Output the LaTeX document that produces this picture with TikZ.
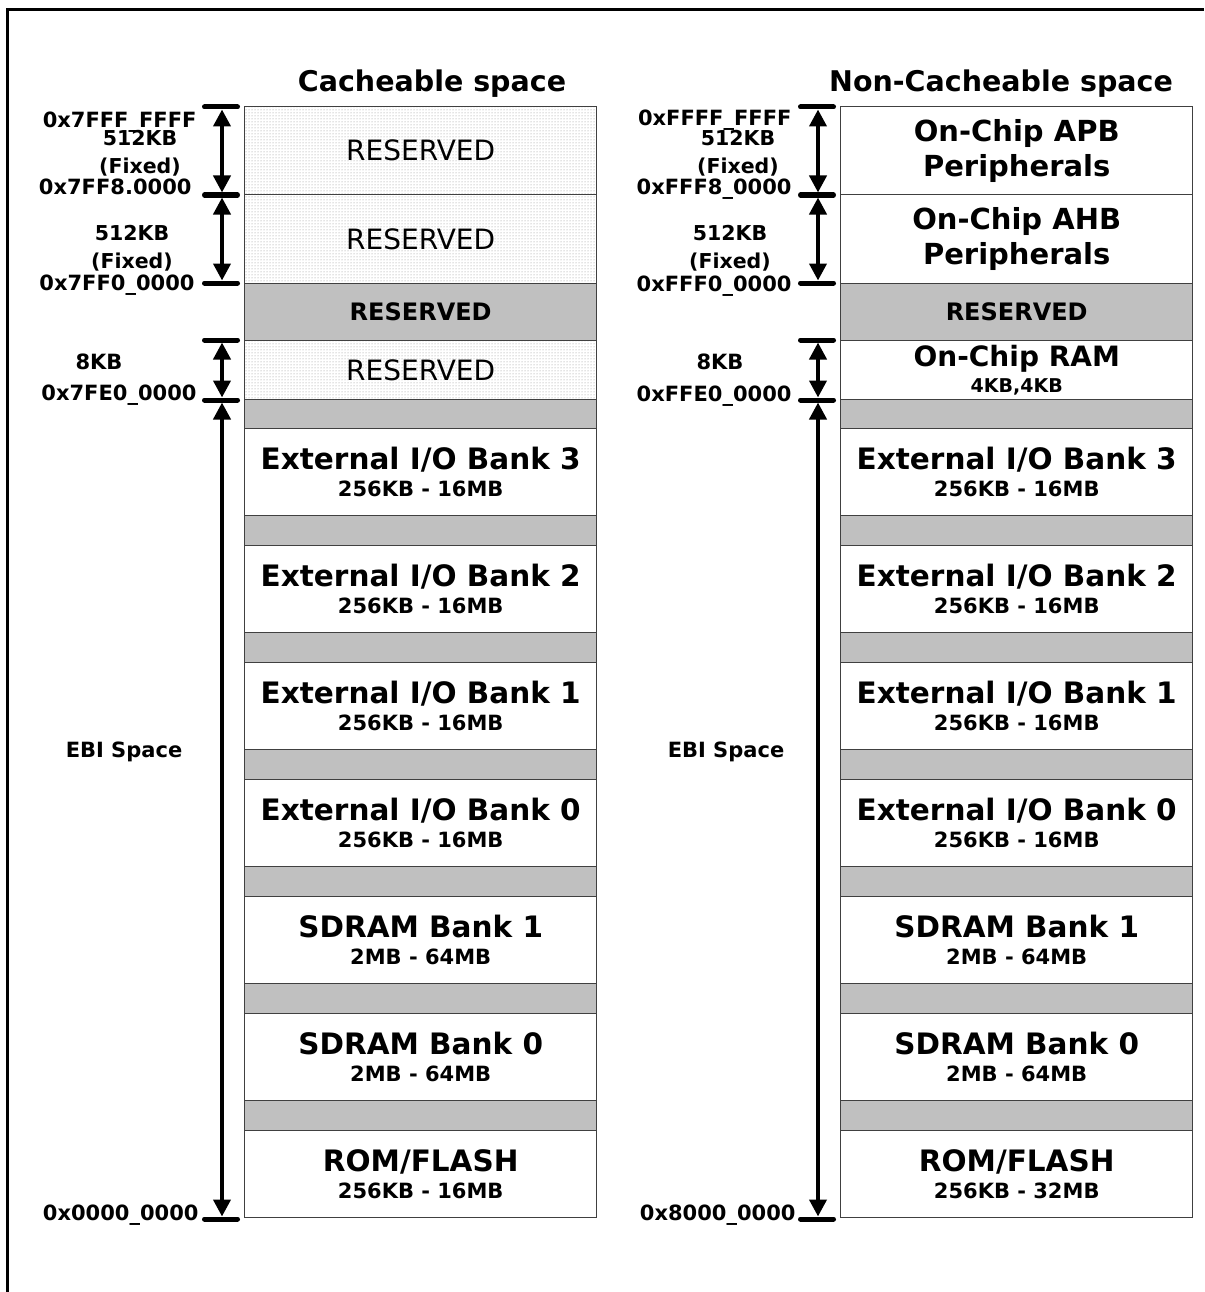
\documentclass[tikz,border=0pt]{standalone}
\usepackage{fontspec}
\setmainfont{DejaVu Sans}
\usetikzlibrary{arrows.meta,patterns}
\definecolor{resgray}{RGB}{192,192,192}
\definecolor{cellline}{RGB}{64,64,64}
\newcommand*{\lx}{244}
\newcommand*{\rx}{840}
\newcommand*{\pxfont}[1]{\fontsize{#1}{#1}\selectfont}
\tikzset{
  cell/.style={draw=cellline, line width=1.4pt, minimum width=352pt, inner sep=0pt,
    anchor=north west, align=center},
  bank/.style={cell, minimum height=87pt, font=\bfseries\fontsize{29.5}{27}\selectfont},
  gapcell/.style={cell, fill=resgray, minimum height=30pt, font=\bfseries\pxfont{24}},
  dotcell/.style={cell, pattern=dots, pattern color=black!45, font=\mdseries\pxfont{28}},
  periph/.style={cell, font=\bfseries\fontsize{29}{35}\selectfont},
  title/.style={anchor=base, font=\bfseries\pxfont{28.5}},
  addr/.style={anchor=base east, font=\bfseries\pxfont{21}},
  size/.style={align=center, font=\bfseries\fontsize{20.5}{27.5}\selectfont},
  kb/.style={anchor=base, font=\bfseries\pxfont{21}},
  span/.style={line width=4pt, shorten <=2.5pt, shorten >=2.5pt,
    {Triangle[width=17pt,length=17pt]}-{Triangle[width=17pt,length=17pt]}},
  tick/.style={line width=5pt, line cap=round},
}
\begin{document}
\begin{tikzpicture}[x=1pt, y=-1pt, font=\bfseries]
    \useasboundingbox (0,0) rectangle (1204,1292);
    \draw [line width=3pt] (7.5,1292) -- (7.5,9.5) -- (1204,9.5);
    % titles
    \node [title] (ltitle) at (432,92)  {Cacheable space};
    \node [title] (rtitle) at (1001,92) {Non-Cacheable space};
    % cacheable column
    \node [dotcell, minimum height=88pt] (lres1) at (\lx,106) {RESERVED};
    \node [dotcell, minimum height=89pt] (lres2) at (\lx,194) {RESERVED};
    \node [gapcell, minimum height=57pt] (lres3) at (\lx,283) {RESERVED};
    \node [dotcell, minimum height=59pt] (lres4) at (\lx,340) {RESERVED};
    \node [gapcell, minimum height=29pt] (lgap4) at (\lx,399) {};
    \node [bank] (lio3) at (\lx,428) {External I/O Bank 3\\{\pxfont{21}256KB - 16MB}};
    \node [gapcell] (lgap3) at (\lx,515) {};
    \node [bank] (lio2) at (\lx,545) {External I/O Bank 2\\{\pxfont{21}256KB - 16MB}};
    \node [gapcell] (lgap2) at (\lx,632) {};
    \node [bank] (lio1) at (\lx,662) {External I/O Bank 1\\{\pxfont{21}256KB - 16MB}};
    \node [gapcell] (lgap1) at (\lx,749) {};
    \node [bank] (lio0) at (\lx,779) {External I/O Bank 0\\{\pxfont{21}256KB - 16MB}};
    \node [gapcell] (lgap0) at (\lx,866) {};
    \node [bank] (lsd1) at (\lx,896) {SDRAM Bank 1\\{\pxfont{21}2MB - 64MB}};
    \node [gapcell] (lgaps) at (\lx,983) {};
    \node [bank] (lsd0) at (\lx,1013) {SDRAM Bank 0\\{\pxfont{21}2MB - 64MB}};
    \node [gapcell] (lgapr) at (\lx,1100) {};
    \node [bank] (lrom) at (\lx,1130) {ROM/FLASH\\{\pxfont{21}256KB - 16MB}};
    % non-cacheable column
    \node [periph, minimum height=88pt] (rapb) at (\rx,106) {On-Chip APB\\Peripherals};
    \node [periph, minimum height=89pt] (rahb) at (\rx,194) {On-Chip AHB\\Peripherals};
    \node [gapcell, minimum height=57pt] (rres) at (\rx,283) {RESERVED};
    \node [cell, minimum height=59pt, font=\bfseries\fontsize{28}{25.5}\selectfont] (rram) at (\rx,340) {On-Chip RAM\\{\pxfont{19}4KB,4KB}};
    \node [gapcell, minimum height=29pt] (rgap4) at (\rx,399) {};
    \node [bank] (rio3) at (\rx,428) {External I/O Bank 3\\{\pxfont{21}256KB - 16MB}};
    \node [gapcell] (rgap3) at (\rx,515) {};
    \node [bank] (rio2) at (\rx,545) {External I/O Bank 2\\{\pxfont{21}256KB - 16MB}};
    \node [gapcell] (rgap2) at (\rx,632) {};
    \node [bank] (rio1) at (\rx,662) {External I/O Bank 1\\{\pxfont{21}256KB - 16MB}};
    \node [gapcell] (rgap1) at (\rx,749) {};
    \node [bank] (rio0) at (\rx,779) {External I/O Bank 0\\{\pxfont{21}256KB - 16MB}};
    \node [gapcell] (rgap0) at (\rx,866) {};
    \node [bank] (rsd1) at (\rx,896) {SDRAM Bank 1\\{\pxfont{21}2MB - 64MB}};
    \node [gapcell] (rgaps) at (\rx,983) {};
    \node [bank] (rsd0) at (\rx,1013) {SDRAM Bank 0\\{\pxfont{21}2MB - 64MB}};
    \node [gapcell] (rgapr) at (\rx,1100) {};
    \node [bank] (rrom) at (\rx,1130) {ROM/FLASH\\{\pxfont{21}256KB - 32MB}};
    % address ticks
    \coordinate (lt1) at (222,107);  \coordinate (rt1) at (818,107);
    \coordinate (lt2) at (222,195);  \coordinate (rt2) at (818,195);
    \coordinate (lt3) at (222,283);  \coordinate (rt3) at (818,283);
    \coordinate (lt4) at (222,340);  \coordinate (rt4) at (818,340);
    \coordinate (lt5) at (222,400);  \coordinate (rt5) at (818,400);
    \coordinate (lt6) at (222,1219); \coordinate (rt6) at (818,1219);
    \foreach \t in {lt1,lt2,lt3,lt4,lt5,lt6,rt1,rt2,rt3,rt4,rt5,rt6}
        \draw [tick] ([xshift=-17.5pt]\t) -- ([xshift=15.5pt]\t);
    \draw [span] (lt1) -- (lt2);
    \draw [span] (lt2) -- (lt3);
    \draw [span] (lt4) -- (lt5);
    \draw [span] (lt5) -- (lt6);
    \draw [span] (rt1) -- (rt2);
    \draw [span] (rt2) -- (rt3);
    \draw [span] (rt4) -- (rt5);
    \draw [span] (rt5) -- (rt6);
    % address labels
    \node [addr] (la1) at (200,127.5) {0x7FFF\_FFFF};
    \node [addr] (la2) at (195,194.5) {0x7FF8.0000};
    \node [addr] (la3) at (198,290)   {0x7FF0\_0000};
    \node [addr] (la4) at (200,400)   {0x7FE0\_0000};
    \node [addr] (la5) at (202,1220)  {0x0000\_0000};
    \node [addr] (ra1) at (795,126)   {0xFFFF\_FFFF};
    \node [addr] (ra2) at (795,195)   {0xFFF8\_0000};
    \node [addr] (ra3) at (795,291)   {0xFFF0\_0000};
    \node [addr] (ra4) at (795,401)   {0xFFE0\_0000};
    \node [addr] (ra5) at (799,1220)  {0x8000\_0000};
    % sizes
    \node [size] (lsz1) at (140,153) {512KB\\(Fixed)};
    \node [size] (lsz2) at (132,248) {512KB\\(Fixed)};
    \node [kb]   (lsz3) at (99,369.5)  {8KB};
    \node [kb]   (lebi) at (124,757.5) {EBI Space};
    \node [size] (rsz1) at (738,153) {512KB\\(Fixed)};
    \node [size] (rsz2) at (730,248) {512KB\\(Fixed)};
    \node [kb]   (rsz3) at (720,369.5)  {8KB};
    \node [kb]   (rebi) at (726,757.5) {EBI Space};
\end{tikzpicture}
\end{document}
